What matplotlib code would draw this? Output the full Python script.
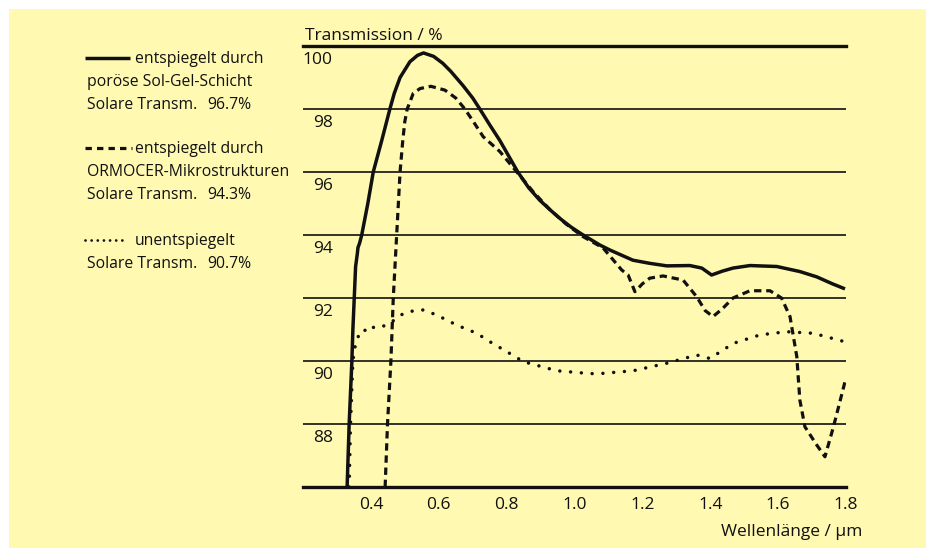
import matplotlib.pyplot as plt
from matplotlib.patches import Rectangle
from matplotlib.lines import Line2D

plt.rcParams['font.family'] = ['Open Sans', 'DejaVu Sans']

# (wavelength in um, transmission in %)
sol_gel_wl = [0.330, 0.333, 0.336, 0.340, 0.344, 0.347, 0.351, 0.355, 0.360, 0.362,
              0.367, 0.373, 0.391, 0.407, 0.432, 0.456, 0.469, 0.486, 0.515, 0.537,
              0.555, 0.585, 0.612, 0.635, 0.671, 0.700, 0.721, 0.750, 0.780, 0.833,
              0.865, 0.898, 0.930, 0.960, 0.990, 1.021, 1.075, 1.105, 1.172, 1.222,
              1.272, 1.340, 1.375, 1.404, 1.435, 1.467, 1.517, 1.596, 1.664, 1.714,
              1.760, 1.797]
sol_gel_t = [86.0, 87.0, 88.0, 89.0, 90.0, 91.0, 92.0, 93.0, 93.4, 93.6,
             93.75, 94.0, 95.0, 96.0, 97.0, 98.0, 98.5, 99.0, 99.5, 99.7,
             99.78, 99.67, 99.45, 99.2, 98.75, 98.35, 98.0, 97.5, 97.0, 96.0,
             95.5, 95.1, 94.78, 94.5, 94.25, 94.03, 93.68, 93.52, 93.2, 93.1,
             93.02, 93.03, 92.95, 92.73, 92.85, 92.95, 93.03, 93.0, 92.84, 92.67,
             92.45, 92.29]

ormocer_wl = [0.442, 0.449, 0.459, 0.466, 0.476, 0.486, 0.494, 0.500, 0.507, 0.525,
              0.545, 0.577, 0.618, 0.650, 0.677, 0.705, 0.731, 0.780, 0.830, 0.880,
              0.928, 0.975, 1.025, 1.084, 1.110, 1.139, 1.158, 1.178, 1.200, 1.222,
              1.261, 1.320, 1.360, 1.385, 1.408, 1.435, 1.467, 1.517, 1.576, 1.610,
              1.635, 1.655, 1.664, 1.679, 1.714, 1.738, 1.763, 1.797]
ormocer_t = [86.0, 88.0, 90.0, 92.0, 94.0, 96.0, 97.0, 97.6, 98.0, 98.5,
             98.65, 98.72, 98.6, 98.35, 98.0, 97.55, 97.12, 96.65, 96.0, 95.35,
             94.8, 94.35, 93.95, 93.59, 93.26, 92.89, 92.73, 92.2, 92.45, 92.63,
             92.7, 92.57, 92.04, 91.6, 91.41, 91.65, 92.0, 92.23, 92.23, 92.0,
             91.41, 90.14, 88.76, 87.91, 87.33, 86.96, 87.91, 89.34]

plain_wl = [0.336, 0.340, 0.347, 0.352, 0.358, 0.365, 0.373, 0.383, 0.392, 0.417,
            0.440, 0.456, 0.496, 0.535, 0.555, 0.594, 0.653, 0.712, 0.751, 0.800,
            0.849, 0.948, 1.046, 1.075, 1.173, 1.272, 1.360, 1.399, 1.468, 1.547,
            1.625, 1.704, 1.797]
plain_t = [86.0, 88.0, 90.0, 90.4, 90.61, 90.85, 90.83, 90.98, 91.11, 91.04,
           91.12, 91.2, 91.51, 91.62, 91.62, 91.46, 91.14, 90.88, 90.61, 90.3,
           89.98, 89.69, 89.6, 89.6, 89.69, 89.93, 90.19, 90.08, 90.56, 90.83,
           90.93, 90.88, 90.61]

y_ticks = [100, 98, 96, 94, 92, 90, 88]
x_ticks = [0.4, 0.6, 0.8, 1.0, 1.2, 1.4, 1.6, 1.8]
x_labels = ['0.4', '0.6', '0.8', '1.0', '1.2', '1.4', '1.6', '1.8']

legend_lines = [
    ('entspiegelt durch', 'poröse Sol-Gel-Schicht', 'Solare Transm.', '96.7%'),
    ('entspiegelt durch', 'ORMOCER-Mikrostrukturen', 'Solare Transm.', '94.3%'),
    ('unentspiegelt', None, 'Solare Transm.', '90.7%'),
]

W, H = 926, 548
BG = '#fff9b1'
INK = '#111111'

fig = plt.figure(figsize=(W / 100, H / 100), dpi=100)
fig.patch.set_facecolor('white')

# background layer in pixel coordinates (origin top left)
bg = fig.add_axes([0, 0, 1, 1])
bg.set_xlim(0, W)
bg.set_ylim(H, 0)
bg.axis('off')
bg.add_patch(Rectangle((9, 9), W - 9, H - 9, facecolor=BG, edgecolor='none'))

solid_style = dict(color=INK, lw=2.5, solid_capstyle='butt', solid_joinstyle='round')
dash_style = dict(color=INK, lw=2.3, linestyle=(0, (2.3, 1.5)), dash_capstyle='butt')
dot_style = dict(color=INK, lw=2.5, linestyle=(0, (0.01, 3.1)), dash_capstyle='round')

ax = fig.add_axes([303 / W, 1 - 487 / H, (846 - 303) / W, (487 - 46) / H])
ax.set_facecolor('none')
ax.set_xlim(0.2, 1.8)
ax.set_ylim(86, 100)

for v in y_ticks[1:]:
    ax.axhline(v, color=INK, lw=1.2, zorder=1)
for side in ['left', 'right']:
    ax.spines[side].set_visible(False)
for side in ['top', 'bottom']:
    ax.spines[side].set_linewidth(2.4)
    ax.spines[side].set_color(INK)

ax.plot(sol_gel_wl, sol_gel_t, zorder=3, **solid_style)
ax.plot(ormocer_wl, ormocer_t, zorder=3, **dash_style)
ax.plot(plain_wl, plain_t, zorder=3, **dot_style)

ax.set_yticks([])
ax.set_xticks(x_ticks)
ax.set_xticklabels(x_labels)
ax.tick_params(axis='x', length=0, pad=7, labelsize=12.5, colors=INK)

for v in y_ticks:
    ax.text(0.288, v - 0.57, str(v), ha='right', va='baseline', fontsize=12.5, color=INK)

bg.text(305, 40, 'Transmission / %', ha='left', va='baseline', fontsize=12.5, color=INK)
bg.text(862, 536, 'Wellenlänge / µm', ha='right', va='baseline', fontsize=12.5, color=INK)

# legend block on the left
fs = 11.3
base = [63, 153, 245]
sample_styles = [
    dict(color=INK, lw=2.5, solid_capstyle='butt'),
    dict(color=INK, lw=2.3, dash_capstyle='butt',
         linestyle=(0, (2.0, 1.6, 2.0, 1.6, 2.0, 1.6, 2.0, 1.6, 0.7, 1.6))),
    dict(color=INK, lw=2.0, linestyle=(0, (0.01, 2.2)), dash_capstyle='round'),
]
sample_ends = [130, 132, 124]
for (head, second, solar, pct), y0, st, xe in zip(legend_lines, base, sample_styles, sample_ends):
    bg.add_line(Line2D([85, xe], [y0 - 5.5, y0 - 5.5], **st))
    bg.text(135, y0, head, ha='left', va='baseline', fontsize=fs, color=INK)
    y = y0
    if second:
        y += 23
        bg.text(87, y, second, ha='left', va='baseline', fontsize=fs, color=INK)
    y += 23
    bg.text(87, y, solar, ha='left', va='baseline', fontsize=fs, color=INK)
    bg.text(207, y, pct, ha='left', va='baseline', fontsize=fs, color=INK)

fig.savefig('out.png', dpi=100, facecolor=fig.get_facecolor())
